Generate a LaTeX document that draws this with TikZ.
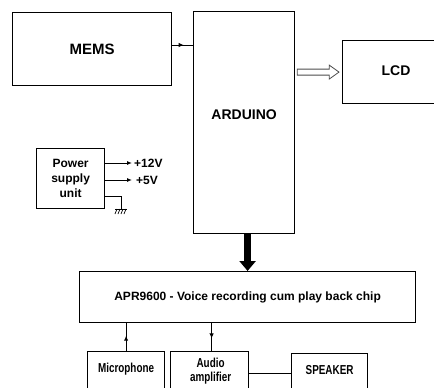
\documentclass[tikz,border=0pt]{standalone}
\usepackage{fontspec}
\setmainfont{Liberation Sans}
\newfontfamily\narrowfont[FakeStretch=0.76]{Liberation Sans}
\usetikzlibrary{arrows.meta,decorations.markings,calc}
\begin{document}
\begin{tikzpicture}[x=1pt,y=-1pt,
  box/.style={draw=black, line width=1.2pt, inner sep=0pt, anchor=north west, fill=white},
  conn/.style={draw=black, line width=1pt},
  tip/.style={-{Latex[length=5pt,width=4pt]}},
  midarrow/.style={postaction={decorate}, decoration={markings, mark=at position #1 with {\arrow{Latex[length=5pt,width=4.5pt]}}}},
  bigtxt/.style={font=\bfseries\fontsize{14}{17}\selectfont},
  medtxt/.style={font=\bfseries\fontsize{12}{15}\selectfont, align=center},
  narrowtxt/.style={font=\narrowfont\bfseries\fontsize{13}{14}\selectfont, align=center, inner sep=0pt}
]
\useasboundingbox (0,0) rectangle (434,388);
\clip (0,0) rectangle (434,388);

% main boxes
\node[box, minimum width=159pt, minimum height=73pt, font=\bfseries\fontsize{15}{18}\selectfont] (mems) at (12,12) {MEMS};
\node[box, minimum width=101pt, minimum height=222pt] (arduino) at (193,11) {};
\node[bigtxt] (ardt) at ($(arduino.center)+(0,-8)$) {ARDUINO};
\node[box, minimum width=108pt, minimum height=63pt] (lcd) at (342,40) {};
\node[bigtxt] (lcdt) at (396,71) {LCD};

% power supply
\node[box, minimum width=68pt, minimum height=60pt, medtxt] (psu) at (36,148) {Power\\supply\\unit};
\node[medtxt, anchor=west, inner sep=1pt] (v12) at (133,163) {+12V};
\node[medtxt, anchor=west, inner sep=1pt] (v5) at (135,180) {+5V};
\draw[conn, tip] ($(psu.north east)+(0,15)$) -- ($(v12.west)+(-1,0)$);
\draw[conn, tip] ($(psu.north east)+(0,32)$) -- ($(v5.west)+(-3,0)$);
\coordinate (gnd) at (121,209);
\draw[conn] ($(psu.north east)+(0,48)$) -| (gnd);
\draw[line width=1pt] ($(gnd)+(-6,0)$) -- ($(gnd)+(6,0)$);
\foreach \i in {-4,-1,2,5} {
  \draw[line width=0.7pt] ($(gnd)+(\i,0)$) -- ($(gnd)+(\i-2,5)$);
}

% APR chip
\node[box, minimum width=336pt, minimum height=51pt, medtxt] (apr) at (79,271) {APR9600 - Voice recording cum play back chip};

% bottom boxes
\node[box, minimum width=77pt, minimum height=60pt] (mic) at (87,351) {};
\node[narrowtxt] (mict) at ($(mic.north)+(0,18)$) {Microphone};
\node[box, minimum width=78pt, minimum height=60pt] (amp) at (170,351) {};
\node[narrowtxt] (ampt) at ($(amp.north)+(1,20)$) {Audio\\amplifier};
\node[box, minimum width=76pt, minimum height=60pt] (spk) at (291,353) {};
\node[narrowtxt] (spkt) at ($(spk.north)+(0,17)$) {SPEAKER};

% connectors
\draw[conn, midarrow=0.55] (mems.east |- 0,45) -- (arduino.west |- 0,45);
\draw[line width=0.8pt, draw=black!70, fill=white]
  ($(arduino.east |- lcd.west)+(2,-3)$) -- ($(arduino.east |- lcd.west)+(34,-3)$) --
  ($(arduino.east |- lcd.west)+(34,-7)$) -- ($(lcd.west)+(-3,0)$) --
  ($(arduino.east |- lcd.west)+(34,7)$) -- ($(arduino.east |- lcd.west)+(34,3)$) --
  ($(arduino.east |- lcd.west)+(2,3)$) -- cycle;
\draw[line width=7pt, -{Triangle[width=16pt,length=10pt]}] (apr.north |- arduino.south) -- (apr.north);
\draw[conn, midarrow=0.55] (mic.north) -- (mic.north |- apr.south);
\draw[conn, midarrow=0.55] ($(apr.south -| amp.north)+(2,0)$) -- ($(amp.north)+(2,0)$);
\draw[conn] ($(amp.north east)+(0,22)$) -- ($(spk.north west)+(0,20)$);
\end{tikzpicture}
\end{document}
